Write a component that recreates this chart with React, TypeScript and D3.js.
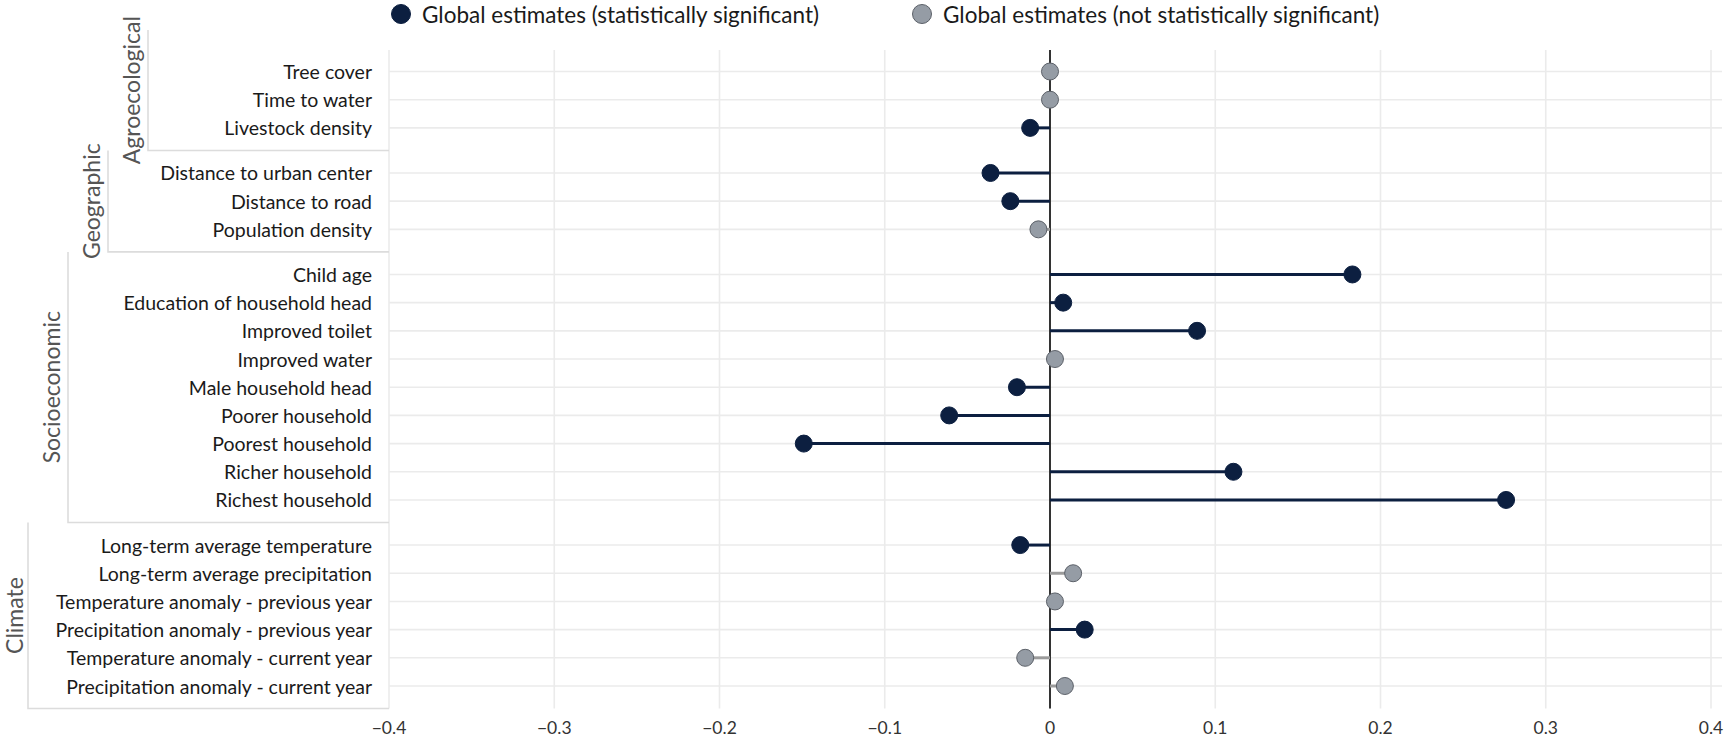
import React from 'react'
import * as d3 from 'd3'

// Data
const groups = ['Agroecological', 'Geographic', 'Socioeconomic', 'Climate']
const groupSizes = [3, 3, 9, 6]

const labels = [
  'Tree cover',
  'Time to water',
  'Livestock density',
  'Distance to urban center',
  'Distance to road',
  'Population density',
  'Child age',
  'Education of household head',
  'Improved toilet',
  'Improved water',
  'Male household head',
  'Poorer household',
  'Poorest household',
  'Richer household',
  'Richest household',
  'Long-term average temperature',
  'Long-term average precipitation',
  'Temperature anomaly - previous year',
  'Precipitation anomaly - previous year',
  'Temperature anomaly - current year',
  'Precipitation anomaly - current year'
]

const estimates = [
  0.0, 0.0, -0.012,
  -0.036, -0.024, -0.007,
  0.183, 0.008, 0.089, 0.003, -0.02, -0.061, -0.149, 0.111, 0.276,
  -0.018, 0.014, 0.003, 0.021, -0.015, 0.009
]

const significant = [
  false, false, true,
  true, true, false,
  true, true, true, false, true, true, true, true, true,
  true, false, false, true, false, false
]

const xTicks = [-0.4, -0.3, -0.2, -0.1, 0, 0.1, 0.2, 0.3, 0.4]

const legendItems = [
  { label: 'Global estimates (statistically significant)', sig: true },
  { label: 'Global estimates (not statistically significant)', sig: false }
]

const NAVY = '#0c1f40'
const GREY_FILL = '#959ca5'
const GREY_STROKE = '#5b6068'
const GREY_STEM = '#9b9b9b'
const GRID = '#ebebeb'
const FONT = 'Lato, "Open Sans", sans-serif'

export default function App() {
  const width = 1725
  const height = 736
  const panelTop = 50
  const panelLeft = 389
  const panelRight = 1722
  const gap = 0.6

  // slot positions: row index plus extra space between groups
  const groupOf: number[] = []
  groupSizes.forEach((n, g) => {
    for (let i = 0; i < n; i++) groupOf.push(g)
  })
  const slots = labels.map((_, i) => i + groupOf[i] * gap)
  const lastSlot = slots[slots.length - 1]

  const x = d3.scaleLinear().domain([-0.4, 0.4]).range([389, 1711])
  const y = d3.scaleLinear().domain([0, lastSlot]).range([71.5, 686])

  const panelBottom = y(lastSlot + 0.8)

  // group brackets
  let start = 0
  const brackets = groups.map((name, g) => {
    const first = slots[start]
    const last = slots[start + groupSizes[g] - 1]
    start += groupSizes[g]
    const top = g === 0 ? 30 : y(first - 0.8)
    const bottom = y(last + 0.8)
    const bx = 148 - g * 40
    return { name, top, bottom, bx }
  })

  return (
    <svg
      width={width}
      height={height}
      style={{ position: 'absolute', left: 0, top: 0, background: '#fff' }}
      fontFamily={FONT}
    >
      {/* legend */}
      {legendItems.map((d, i) => {
        const lx = i === 0 ? 401 : 922
        return (
          <g key={d.label} transform={`translate(${lx},14)`}>
            <circle
              r={9.5}
              fill={d.sig ? NAVY : GREY_FILL}
              stroke={d.sig ? NAVY : GREY_STROKE}
              strokeWidth={1}
            />
            <text x={21} dominantBaseline="central" fontSize={22.5} fill="#1a1a1a">
              {d.label}
            </text>
          </g>
        )
      })}

      {/* horizontal grid */}
      {slots.map((s, i) => (
        <line
          key={'h' + i}
          x1={panelLeft}
          x2={panelRight}
          y1={y(s)}
          y2={y(s)}
          stroke={GRID}
          strokeWidth={1.6}
        />
      ))}

      {/* vertical grid */}
      {xTicks.map(t => (
        <line
          key={'v' + t}
          x1={x(t)}
          x2={x(t)}
          y1={panelTop}
          y2={panelBottom}
          stroke={GRID}
          strokeWidth={1.6}
        />
      ))}

      {/* group brackets and strip labels */}
      {brackets.map(b => (
        <g key={b.name}>
          <path
            d={`M${b.bx},${b.top}V${b.bottom}H${panelLeft}`}
            fill="none"
            stroke="#dcdcdc"
            strokeWidth={1.6}
          />
          <text
            transform={`translate(${Math.max(b.bx - 17, 14)},${(b.top + b.bottom) / 2}) rotate(-90)`}
            textAnchor="middle"
            dominantBaseline="central"
            fontSize={23}
            fill="#555"
          >
            {b.name}
          </text>
        </g>
      ))}

      {/* row labels */}
      {labels.map((l, i) => (
        <text
          key={l}
          x={372}
          y={y(slots[i])}
          textAnchor="end"
          dominantBaseline="central"
          fontSize={19.5}
          fill="#1a1a1a"
        >
          {l}
        </text>
      ))}

      {/* zero line */}
      <line x1={x(0)} x2={x(0)} y1={panelTop} y2={panelBottom} stroke="#333" strokeWidth={2} />

      {/* stems */}
      {estimates.map((v, i) => (
        <line
          key={'s' + i}
          x1={x(0)}
          x2={x(v)}
          y1={y(slots[i])}
          y2={y(slots[i])}
          stroke={significant[i] ? NAVY : GREY_STEM}
          strokeWidth={3}
        />
      ))}

      {/* dots */}
      {estimates.map((v, i) => (
        <circle
          key={'c' + i}
          cx={x(v)}
          cy={y(slots[i])}
          r={8.5}
          fill={significant[i] ? NAVY : GREY_FILL}
          stroke={significant[i] ? NAVY : GREY_STROKE}
          strokeWidth={1}
        />
      ))}

      {/* x axis labels */}
      {xTicks.map(t => (
        <text
          key={'t' + t}
          x={x(t)}
          y={727}
          textAnchor="middle"
          dominantBaseline="central"
          fontSize={17.5}
          fill="#333"
        >
          {t === 0 ? '0' : d3.format('.1f')(t)}
        </text>
      ))}
    </svg>
  )
}
